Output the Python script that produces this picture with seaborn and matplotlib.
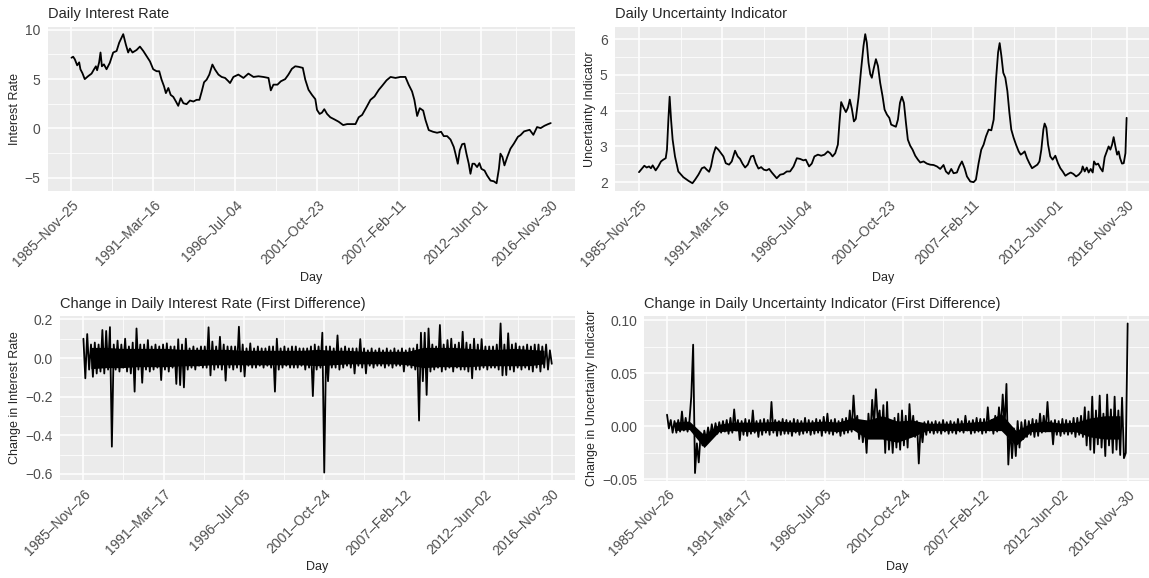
import matplotlib
matplotlib.use("Agg")
import matplotlib.pyplot as plt
import matplotlib.dates as mdates
import numpy as np
import pandas as pd
import seaborn as sns

# ---- data ----
# daily interest rate, sampled along the curve (decimal year, level)
rate_years = [1985.90, 1986.01, 1986.12, 1986.27, 1986.40, 1986.48, 1986.61, 1986.76, 1986.98, 1987.20,
              1987.35, 1987.48, 1987.56, 1987.69, 1987.78, 1987.87, 1988.00, 1988.17, 1988.38, 1988.60,
              1988.82, 1988.99, 1989.25, 1989.42, 1989.57, 1989.68, 1989.85, 1990.11, 1990.33, 1990.55,
              1990.76, 1990.98, 1991.19, 1991.41, 1991.58, 1991.73, 1991.89, 1992.01, 1992.17, 1992.32,
              1992.49, 1992.66, 1992.81, 1992.97, 1993.14, 1993.35, 1993.57, 1993.79, 1994.00, 1994.18,
              1994.33, 1994.48, 1994.65, 1994.82, 1995.02, 1995.19, 1995.41, 1995.62, 1995.84, 1996.06,
              1996.16, 1996.38, 1996.70, 1997.03, 1997.35, 1997.68, 1998.00, 1998.32, 1998.65, 1998.80,
              1998.97, 1999.23, 1999.45, 1999.73, 1999.94, 2000.16, 2000.38, 2000.59, 2000.87, 2001.03,
              2001.24, 2001.46, 2001.68, 2001.79, 2001.96, 2002.11, 2002.26, 2002.44, 2002.65, 2002.91,
              2003.19, 2003.48, 2003.74, 2004.00, 2004.28, 2004.49, 2004.71, 2004.99, 2005.25, 2005.51,
              2005.79, 2006.01, 2006.29, 2006.55, 2006.87, 2007.18, 2007.51, 2007.72, 2007.94, 2008.09,
              2008.27, 2008.44, 2008.66, 2008.81, 2009.02, 2009.30, 2009.56, 2009.82, 2009.99, 2010.21,
              2010.43, 2010.64, 2010.75, 2010.90, 2011.03, 2011.18, 2011.33, 2011.46, 2011.61, 2011.72,
              2011.85, 2011.98, 2012.15, 2012.30, 2012.43, 2012.63, 2012.80, 2013.02, 2013.23, 2013.41,
              2013.56, 2013.66, 2013.79, 2013.92, 2014.10, 2014.31, 2014.53, 2014.79, 2014.96, 2015.19,
              2015.55, 2015.79, 2016.03, 2016.26, 2016.51, 2016.75, 2016.915]
rate_values = [7.17, 7.27, 7.00, 6.40, 6.70, 6.00, 5.60, 5.00, 5.30, 5.56,
               5.97, 6.30, 5.90, 6.70, 7.70, 6.30, 6.50, 6.00, 6.65, 7.70,
               7.85, 8.70, 9.56, 8.50, 7.70, 8.10, 7.70, 7.95, 8.30, 7.85,
               7.34, 6.80, 6.00, 5.80, 5.80, 4.95, 4.27, 3.58, 4.10, 3.40,
               3.20, 2.73, 2.29, 3.07, 2.56, 2.46, 2.83, 2.73, 2.90, 2.90,
               3.75, 4.68, 4.95, 5.46, 6.48, 5.97, 5.46, 5.22, 5.12, 4.78,
               4.60, 5.22, 5.46, 5.12, 5.56, 5.22, 5.29, 5.22, 5.12, 3.86,
               4.44, 4.44, 4.78, 5.00, 5.46, 6.04, 6.30, 6.25, 6.14, 4.95,
               3.92, 3.41, 2.97, 1.88, 1.47, 1.60, 1.95, 1.47, 1.13, 0.92,
               0.68, 0.34, 0.44, 0.44, 0.44, 1.13, 1.37, 2.15, 2.90, 3.24,
               3.92, 4.33, 4.88, 5.22, 5.12, 5.22, 5.22, 4.44, 3.75, 2.90,
               1.26, 2.05, 1.81, 0.85, -0.17, -0.34, -0.44, -0.34, -0.78, -0.78,
               -1.13, -1.88, -2.56, -3.58, -2.22, -1.60, -1.54, -2.56, -3.58, -4.60,
               -3.58, -3.58, -3.92, -3.52, -4.10, -4.27, -4.78, -5.29, -5.36, -5.56,
               -4.10, -2.56, -2.90, -3.75, -2.90, -2.05, -1.54, -0.85, -0.68, -0.30,
               -0.14, -0.65, 0.14, 0.03, 0.27, 0.44, 0.54]

# daily uncertainty indicator (decimal year, level)
unc_years = [1985.90, 1986.07, 1986.24, 1986.39, 1986.54, 1986.66, 1986.77, 1986.96, 1987.13, 1987.30,
             1987.45, 1987.60, 1987.68, 1987.77, 1987.85, 1987.94, 1988.04, 1988.19, 1988.40, 1988.72,
             1989.04, 1989.30, 1989.47, 1989.68, 1989.90, 1990.06, 1990.21, 1990.36, 1990.48, 1990.63,
             1990.78, 1990.95, 1991.12, 1991.27, 1991.42, 1991.63, 1991.80, 1992.01, 1992.18, 1992.33,
             1992.48, 1992.65, 1992.82, 1993.03, 1993.18, 1993.33, 1993.50, 1993.67, 1993.84, 1994.01,
             1994.18, 1994.35, 1994.52, 1994.66, 1994.88, 1995.09, 1995.30, 1995.51, 1995.73, 1995.94,
             1996.15, 1996.36, 1996.51, 1996.72, 1996.89, 1997.06, 1997.28, 1997.49, 1997.70, 1997.91,
             1998.06, 1998.21, 1998.38, 1998.55, 1998.65, 1998.76, 1998.89, 1999.06, 1999.19, 1999.31,
             1999.44, 1999.57, 1999.69, 1999.86, 2000.03, 2000.18, 2000.29, 2000.39, 2000.50, 2000.61,
             2000.71, 2000.82, 2000.97, 2001.10, 2001.24, 2001.39, 2001.52, 2001.67, 2001.82, 2001.94,
             2002.09, 2002.24, 2002.37, 2002.50, 2002.62, 2002.75, 2002.88, 2003.00, 2003.15, 2003.30,
             2003.47, 2003.64, 2003.79, 2004.00, 2004.21, 2004.42, 2004.64, 2004.85, 2005.06, 2005.27,
             2005.42, 2005.59, 2005.76, 2005.91, 2006.12, 2006.27, 2006.44, 2006.61, 2006.76, 2006.97,
             2007.18, 2007.33, 2007.50, 2007.67, 2007.82, 2007.97, 2008.14, 2008.31, 2008.46, 2008.61,
             2008.74, 2008.84, 2008.95, 2009.07, 2009.20, 2009.33, 2009.46, 2009.58, 2009.73, 2009.88,
             2010.05, 2010.18, 2010.31, 2010.43, 2010.58, 2010.73, 2010.90, 2011.07, 2011.24, 2011.37,
             2011.49, 2011.62, 2011.70, 2011.81, 2011.92, 2012.06, 2012.21, 2012.38, 2012.55, 2012.70,
             2012.85, 2013.02, 2013.19, 2013.36, 2013.53, 2013.70, 2013.87, 2014.04, 2014.12, 2014.25,
             2014.38, 2014.50, 2014.63, 2014.76, 2014.84, 2014.97, 2015.10, 2015.25, 2015.39, 2015.52,
             2015.65, 2015.77, 2015.88, 2015.99, 2016.09, 2016.20, 2016.31, 2016.41, 2016.50, 2016.62,
             2016.73, 2016.84, 2016.915]
unc_values = [2.28, 2.37, 2.46, 2.41, 2.44, 2.39, 2.47, 2.33, 2.44, 2.58,
              2.63, 2.67, 2.91, 3.75, 4.39, 3.75, 3.19, 2.72, 2.30, 2.14,
              2.04, 1.97, 2.07, 2.21, 2.39, 2.42, 2.35, 2.29, 2.44, 2.77,
              2.98, 2.91, 2.81, 2.72, 2.53, 2.49, 2.58, 2.88, 2.72, 2.65,
              2.52, 2.41, 2.49, 2.72, 2.74, 2.53, 2.38, 2.42, 2.35, 2.33,
              2.37, 2.27, 2.18, 2.11, 2.21, 2.23, 2.30, 2.30, 2.44, 2.67,
              2.65, 2.61, 2.63, 2.44, 2.52, 2.72, 2.77, 2.74, 2.77, 2.86,
              2.81, 2.72, 2.81, 3.05, 3.66, 4.24, 4.11, 3.96, 4.08, 4.31,
              4.05, 3.70, 3.77, 4.36, 5.16, 5.81, 6.14, 5.90, 5.34, 5.02,
              4.92, 5.16, 5.44, 5.25, 4.78, 4.41, 4.03, 3.89, 3.80, 3.61,
              3.58, 3.55, 3.75, 4.22, 4.39, 4.22, 3.66, 3.19, 3.02, 2.91,
              2.74, 2.63, 2.55, 2.58, 2.52, 2.49, 2.48, 2.44, 2.37, 2.48,
              2.30, 2.23, 2.37, 2.25, 2.27, 2.44, 2.58, 2.39, 2.16, 2.02,
              2.00, 2.07, 2.53, 2.91, 3.05, 3.28, 3.47, 3.45, 3.75, 4.88,
              5.63, 5.89, 5.53, 5.06, 4.92, 4.55, 3.94, 3.47, 3.24, 3.05,
              2.86, 2.77, 2.81, 2.86, 2.67, 2.53, 2.39, 2.44, 2.49, 2.58,
              2.91, 3.47, 3.64, 3.52, 3.05, 2.72, 2.63, 2.74, 2.53, 2.39,
              2.30, 2.18, 2.23, 2.27, 2.23, 2.16, 2.21, 2.30, 2.44, 2.30,
              2.41, 2.27, 2.37, 2.27, 2.58, 2.49, 2.52, 2.39, 2.30, 2.70,
              2.86, 3.00, 2.91, 3.05, 3.26, 3.00, 2.77, 2.86, 2.67, 2.52,
              2.53, 2.81, 3.80]

# first differences: two excursions per quarter (in time order), 1985-11-26 .. 2016-11-30
d_rate_a = [0.100, 0.124, 0.070, 0.080, 0.070, 0.145, 0.140, 0.160, 0.070, 0.090, 0.070, 0.100,
            0.060, 0.080, 0.153, 0.070, 0.070, 0.093, 0.060, 0.070, 0.060, 0.070, 0.076, 0.060,
            0.060, 0.097, 0.070, 0.100, 0.050, 0.060, 0.050, 0.060, 0.060, 0.159, 0.085, 0.060,
            0.110, 0.070, 0.060, 0.060, 0.060, 0.162, 0.070, 0.050, 0.076, 0.050, 0.060, 0.050,
            0.050, 0.060, 0.060, 0.100, 0.050, 0.060, 0.050, 0.060, 0.060, 0.050, 0.050, 0.050,
            0.060, 0.070, 0.060, 0.131, 0.060, 0.060, 0.050, 0.117, 0.050, 0.060, 0.050, 0.050,
            0.050, 0.098, 0.050, 0.040, 0.050, 0.040, 0.050, 0.040, 0.050, 0.040, 0.050, 0.040,
            0.050, 0.040, 0.050, 0.050, 0.070, 0.131, 0.131, 0.153, 0.070, 0.060, 0.171, 0.070,
            0.093, 0.100, 0.070, 0.080, 0.136, 0.080, 0.070, 0.100, 0.070, 0.098, 0.060, 0.060,
            0.060, 0.070, 0.179, 0.070, 0.128, 0.070, 0.076, 0.060, 0.060, 0.070, 0.060, 0.070,
            0.070, 0.060, 0.070, 0.040]
d_rate_b = [-0.105, -0.060, -0.097, -0.080, -0.070, -0.080, -0.060, -0.459, -0.060, -0.070, -0.050, -0.070,
            -0.080, -0.174, -0.060, -0.128, -0.060, -0.070, -0.060, -0.050, -0.114, -0.060, -0.070, -0.050,
            -0.134, -0.140, -0.152, -0.060, -0.050, -0.060, -0.040, -0.050, -0.050, -0.090, -0.060, -0.050,
            -0.060, -0.117, -0.050, -0.060, -0.050, -0.070, -0.095, -0.040, -0.050, -0.050, -0.040, -0.050,
            -0.040, -0.050, -0.174, -0.060, -0.050, -0.040, -0.050, -0.050, -0.050, -0.040, -0.060, -0.050,
            -0.197, -0.060, -0.050, -0.593, -0.120, -0.050, -0.050, -0.060, -0.050, -0.040, -0.050, -0.080,
            -0.040, -0.050, -0.080, -0.040, -0.050, -0.040, -0.040, -0.050, -0.040, -0.050, -0.040, -0.040,
            -0.070, -0.040, -0.050, -0.060, -0.324, -0.120, -0.191, -0.070, -0.060, -0.050, -0.070, -0.060,
            -0.050, -0.070, -0.050, -0.060, -0.060, -0.070, -0.105, -0.060, -0.060, -0.050, -0.060, -0.050,
            -0.050, -0.060, -0.090, -0.088, -0.060, -0.070, -0.050, -0.060, -0.050, -0.060, -0.070, -0.050,
            -0.070, -0.050, -0.060, -0.030]
# dense core of the daily noise, one band per year (lower, upper)
d_rate_core_lo = [-0.055, -0.050, -0.050, -0.045, -0.045, -0.045, -0.040,
                  -0.040, -0.035, -0.035, -0.035, -0.035, -0.035, -0.035, -0.035, -0.040,
                  -0.035, -0.030, -0.030, -0.030, -0.030, -0.035,
                  -0.050, -0.045, -0.045, -0.045, -0.040,
                  -0.040, -0.040, -0.040, -0.030]
d_rate_core_hi = [0.055, 0.055, 0.050, 0.050, 0.050, 0.050, 0.045,
                  0.045, 0.045, 0.045, 0.040, 0.040, 0.040, 0.040, 0.040, 0.045,
                  0.040, 0.040, 0.035, 0.035, 0.035, 0.035,
                  0.055, 0.055, 0.055, 0.050, 0.045,
                  0.045, 0.050, 0.045, 0.040]

d_unc_a = [0.011, 0.006, 0.005, 0.006, 0.014, 0.008, 0.005, 0.077, -0.016, -0.008, -0.004, -0.001,
           0.002, 0.003, 0.004, 0.005, 0.006, 0.008, 0.016, 0.006, 0.005, 0.007, 0.006, 0.015,
           0.005, 0.006, 0.007, 0.006, 0.023, 0.006, 0.005, 0.007, 0.006, 0.005, 0.007, 0.006,
           0.005, 0.008, 0.006, 0.005, 0.007, 0.006, 0.009, 0.012, 0.006, 0.007, 0.005, 0.007,
           0.008, 0.015, 0.029, 0.010, 0.004, 0.002, 0.012, 0.025, 0.035, 0.015, 0.020, 0.023,
           0.005, 0.008, 0.012, 0.015, 0.010, 0.021, 0.010, 0.005, 0.000, 0.004, 0.005, 0.004,
           0.005, 0.004, 0.006, 0.004, 0.005, 0.004, 0.007, 0.005, 0.010, 0.005, 0.006, 0.008,
           0.007, 0.007, 0.018, 0.006, 0.010, 0.018, 0.030, 0.040, 0.000, -0.002, 0.005, 0.004,
           0.006, 0.005, 0.007, 0.006, 0.012, 0.010, 0.023, 0.005, 0.006, 0.005, 0.007, 0.006,
           0.005, 0.008, 0.008, 0.010, 0.018, 0.014, 0.028, 0.015, 0.029, 0.012, 0.030, 0.016,
           0.028, 0.015, 0.027, -0.025]
d_unc_b = [-0.002, -0.006, -0.006, -0.005, -0.004, -0.005, 0.028, -0.044, -0.034, -0.018, -0.013, -0.011,
           -0.008, -0.007, -0.006, -0.005, -0.007, -0.006, -0.004, -0.013, -0.008, -0.009, -0.007, -0.006,
           -0.010, -0.008, -0.006, -0.008, -0.006, -0.009, -0.008, -0.007, -0.007, -0.009, -0.006, -0.008,
           -0.007, -0.006, -0.008, -0.007, -0.006, -0.009, -0.006, -0.007, -0.008, -0.006, -0.009, -0.007,
           -0.006, -0.005, 0.002, -0.012, -0.015, -0.025, -0.010, 0.000, 0.005, -0.010, -0.025, -0.022,
           -0.025, -0.020, -0.022, -0.018, -0.020, -0.005, -0.010, -0.035, -0.015, -0.008, -0.006, -0.007,
           -0.006, -0.007, -0.005, -0.007, -0.006, -0.007, -0.005, -0.006, -0.004, -0.007, -0.006, -0.005,
           -0.007, -0.006, -0.004, -0.007, -0.005, -0.002, 0.000, -0.036, -0.030, -0.028, -0.020, -0.012,
           -0.010, -0.008, -0.010, -0.009, -0.006, -0.005, -0.004, -0.017, -0.008, -0.009, -0.007, -0.008,
           -0.007, -0.010, -0.008, -0.010, -0.018, -0.022, -0.025, -0.017, -0.020, -0.028, -0.018, -0.025,
           -0.022, -0.027, -0.030, 0.097]
d_unc_core_lo = [-0.004, -0.003, -0.020, -0.005, -0.004, -0.005, -0.004, -0.004, -0.005, -0.004,
                 -0.004, -0.005, -0.003, -0.012, -0.012, -0.015, -0.010, -0.004, -0.004, -0.004,
                 -0.004, -0.004, -0.004, -0.018, -0.005, -0.005, -0.005, -0.005, -0.010, -0.012,
                 -0.012]
d_unc_core_hi = [0.004, 0.005, -0.008, 0.002, 0.004, 0.004, 0.004, 0.005, 0.004, 0.004,
                 0.005, 0.004, 0.008, 0.006, 0.010, 0.005, 0.006, 0.003, 0.003, 0.003,
                 0.004, 0.005, 0.012, -0.004, 0.003, 0.005, 0.003, 0.004, 0.008, 0.010,
                 0.010]

level_ticks = ["1985-11-25", "1991-03-16", "1996-07-04", "2001-10-23", "2007-02-11", "2012-06-01", "2016-11-30"]
diff_ticks = ["1985-11-26", "1991-03-17", "1996-07-05", "2001-10-24", "2007-02-12", "2012-06-02", "2016-11-30"]


def year_to_date(years):
    base = pd.Timestamp("1985-11-25")
    return base + pd.to_timedelta((np.asarray(years) - 1985.90) * 365.25, unit="D")


def interleave(a, b, start, end):
    vals = np.column_stack([a, b]).ravel()
    return pd.date_range(start, end, periods=len(vals)), vals


def draw_panel(ax, dates, values, ticks, yticks, ydec, title, ylabel, core=None):
    if core is not None:
        lo, hi = core
        cd = year_to_date(1986.40 + np.arange(len(lo)))
        ax.fill_between(cd, lo, hi, color="black", linewidth=0)
    sns.lineplot(x=dates, y=values, ax=ax, color="black", linewidth=1.3, estimator=None)
    tnum = mdates.date2num(pd.to_datetime(ticks))
    x0, x1 = mdates.date2num(dates.min()), mdates.date2num(dates.max())
    pad = 0.05 * (x1 - x0)
    ax.set_xlim(x0 - pad, x1 + pad)
    vmin, vmax = np.min(values), np.max(values)
    vpad = 0.05 * (vmax - vmin)
    ax.set_ylim(vmin - vpad, vmax + vpad)

    ax.set_xticks(tnum)
    ax.set_xticklabels([pd.Timestamp(t).strftime("%Y–%b–%d") for t in ticks],
                       rotation=45, ha="right", rotation_mode="anchor")
    ax.set_xticks((tnum[:-1] + tnum[1:]) / 2, minor=True)
    ax.set_yticks(yticks)
    ax.set_yticklabels([f"{v:.{ydec}f}".replace("-", "−") for v in yticks])
    yt = np.asarray(yticks)
    ax.set_yticks((yt[:-1] + yt[1:]) / 2, minor=True)

    ax.grid(which="major", color="white", linewidth=1.1)
    ax.grid(which="minor", color="white", linewidth=0.55)
    ax.set_axisbelow(True)
    ax.tick_params(which="major", length=3, width=0.6, color="#333333",
                   labelsize=10, labelcolor="#4D4D4D", pad=2)
    ax.tick_params(which="minor", length=0)
    for s in ax.spines.values():
        s.set_visible(False)
    ax.set_title(title, loc="left", fontsize=10.5, pad=6)
    ax.set_xlabel("Day", fontsize=9, labelpad=2)
    ax.set_ylabel(ylabel, fontsize=9, labelpad=3)


sns.set_theme(style="darkgrid", rc={"axes.facecolor": "#EBEBEB", "grid.color": "white"})
plt.rcParams["font.family"] = ["Liberation Sans", "DejaVu Sans"]

W, H = 1149, 578
fig = plt.figure(figsize=(W / 100, H / 100), dpi=100)


def panel(x0, x1, y0, y1):
    return fig.add_axes([x0 / W, 1 - y1 / H, (x1 - x0) / W, (y1 - y0) / H])


ax1 = panel(47.5, 574.7, 26.7, 190.7)
ax2 = panel(614.6, 1151, 26.7, 190.7)
ax3 = panel(60, 575.2, 316, 480)
ax4 = panel(644, 1150.7, 316, 480.5)

draw_panel(ax1, year_to_date(rate_years), np.array(rate_values), level_ticks,
           [-5, 0, 5, 10], 0, "Daily Interest Rate", "Interest Rate")
draw_panel(ax2, year_to_date(unc_years), np.array(unc_values), level_ticks,
           [2, 3, 4, 5, 6], 0, "Daily Uncertainty Indicator", "Uncertainty Indicator")
d, v = interleave(d_rate_a, d_rate_b, "1985-11-26", "2016-11-30")
draw_panel(ax3, d, v, diff_ticks, [-0.6, -0.4, -0.2, 0.0, 0.2], 1,
           "Change in Daily Interest Rate (First Difference)", "Change in Interest Rate",
           core=(d_rate_core_lo, d_rate_core_hi))
d, v = interleave(d_unc_a, d_unc_b, "1985-11-26", "2016-11-30")
draw_panel(ax4, d, v, diff_ticks, [-0.05, 0.0, 0.05, 0.10], 2,
           "Change in Daily Uncertainty Indicator (First Difference)", "Change in Uncertainty Indicator",
           core=(d_unc_core_lo, d_unc_core_hi))

fig.savefig("out.png", dpi=100)
